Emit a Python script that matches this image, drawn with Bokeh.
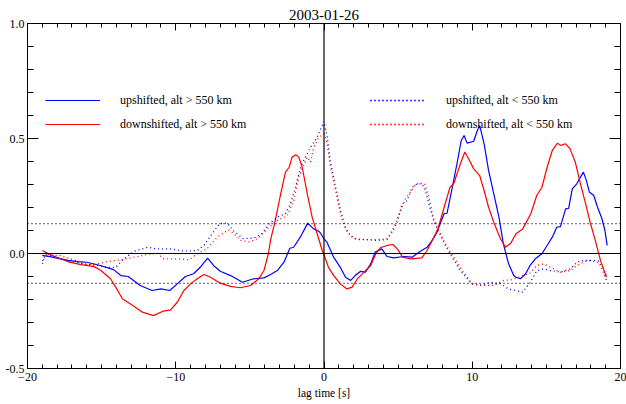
from bokeh.plotting import figure
from bokeh.models import (FixedTicker, LinearAxis, Range1d, Span, Legend, LegendItem,
                          PrintfTickFormatter)
from bokeh.embed import file_html
from bokeh.resources import INLINE

# ---------------- data ----------------
up_hi_t = [-19.0, -18.4, -17.3, -16.6, -16.0, -15.1, -14.2, -13.7, -13.2, -12.4, -11.6, -11.0, -10.4,
           -9.9, -9.35, -8.8, -8.35, -7.85, -7.45, -7.0, -6.3, -5.5, -4.75, -4.05, -3.6, -3.15, -2.7,
           -2.3, -2.05, -1.6, -1.1, -0.7, -0.35, -0.2, 0.0, 0.2, 0.45, 0.65, 1.1, 1.45, 1.8, 2.1, 2.45,
           2.8, 3.15, 3.45, 3.9, 4.25, 4.7, 5.4, 5.95, 6.5, 6.95, 7.3, 7.6, 8.1, 8.3, 8.6, 9.0, 9.25,
           9.45, 9.65, 10.1, 10.3, 10.5, 10.8, 11.1, 11.45, 11.8, 12.1, 12.45, 12.8, 12.95, 13.25, 13.6,
           13.9, 14.25, 14.7, 15.05, 15.4, 15.7, 15.95, 16.3, 16.5, 16.75, 17.05, 17.3, 17.5, 17.7, 17.9,
           18.2, 18.45, 18.75, 18.95, 19.1]
up_hi_v = [-0.008, -0.015, -0.03, -0.035, -0.038, -0.052, -0.07, -0.096, -0.10, -0.139, -0.161, -0.154,
           -0.161, -0.132, -0.10, -0.088, -0.06, -0.02, -0.052, -0.077, -0.096, -0.125, -0.11, -0.106,
           -0.091, -0.074, -0.038, 0.023, 0.027, 0.071, 0.132, 0.107, 0.097, 0.085, 0.064, 0.049, 0.013,
           -0.016, -0.06, -0.103, -0.117, -0.096, -0.078, -0.081, -0.045, 0.006, 0.02, -0.013, -0.019,
           -0.013, -0.016, 0.01, 0.027, 0.057, 0.09, 0.173, 0.175, 0.27, 0.40, 0.49, 0.513, 0.48, 0.488,
           0.527, 0.557, 0.477, 0.361, 0.26, 0.158, 0.042, -0.045, -0.096, -0.103, -0.11, -0.088, -0.052,
           -0.023, -0.001, 0.035, 0.071, 0.114, 0.117, 0.194, 0.196, 0.281, 0.303, 0.332, 0.354, 0.317,
           0.267, 0.252, 0.201, 0.151, 0.10, 0.035]

down_hi_t = [-19.0, -18.45, -17.3, -16.4, -15.5, -15.05, -14.4, -14.05, -13.6, -12.9, -12.25, -11.5,
             -10.9, -10.35, -9.9, -9.45, -9.0, -8.55, -8.1, -7.65, -7.0, -6.3, -5.65, -4.95, -4.4, -4.05,
             -3.75, -3.6, -3.3, -2.95, -2.6, -2.35, -2.15, -1.9, -1.7, -1.47, -1.13, -0.8, -0.46, -0.12,
             0.0, 0.3, 0.66, 1.1, 1.55, 1.9, 2.25, 2.7, 3.15, 3.5, 3.8, 4.25, 4.65, 4.95, 5.3, 5.85, 6.6,
             6.95, 7.3, 7.7, 8.1, 8.5, 8.75, 9.2, 9.5, 9.75, 10.1, 10.5, 10.8, 11.1, 11.45, 11.9, 12.25,
             12.6, 12.95, 13.4, 13.7, 13.95, 14.35, 14.7, 15.05, 15.4, 15.75, 15.95, 16.3, 16.6, 16.95,
             17.3, 17.65, 17.95, 18.3, 18.65, 19.05]
down_hi_v = [0.013, -0.006, -0.035, -0.048, -0.057, -0.074, -0.11, -0.146, -0.197, -0.226, -0.255, -0.27,
             -0.252, -0.245, -0.212, -0.161, -0.132, -0.11, -0.091, -0.103, -0.129, -0.143, -0.149,
             -0.139, -0.11, -0.074, -0.001, 0.06, 0.14, 0.25, 0.354, 0.375, 0.419, 0.429, 0.419, 0.375,
             0.26, 0.158, 0.086, 0.013, -0.005, -0.06, -0.096, -0.132, -0.154, -0.146, -0.11, -0.081,
             -0.052, -0.001, 0.025, 0.035, 0.039, 0.02, -0.016, -0.023, -0.019, 0.013, 0.057, 0.11, 0.2,
             0.288, 0.303, 0.39, 0.441, 0.412, 0.368, 0.339, 0.274, 0.201, 0.136, 0.064, 0.027, 0.045,
             0.086, 0.107, 0.143, 0.173, 0.252, 0.288, 0.375, 0.448, 0.48, 0.47, 0.477, 0.455, 0.397,
             0.303, 0.216, 0.136, 0.057, -0.03, -0.103]

up_lo_t = [-19.0, -18.8, -17.3, -16.2, -15.3, -14.6, -14.05, -13.5, -12.8, -11.9, -11.25, -10.35, -9.45,
           -8.55, -8.1, -7.55, -7.05, -6.55, -6.08, -5.45, -4.73, -4.2, -3.7, -3.16, -2.6, -2.26, -1.92,
           -1.58, -1.25, -0.91, -0.46, -0.12, 0.03, 0.22, 0.42, 0.78, 1.11, 1.45, 1.79, 2.24, 2.91, 3.59,
           4.26, 4.6, 4.94, 5.27, 5.61, 5.95, 6.28, 6.62, 6.84, 7.07, 7.4, 7.7, 8.19, 8.64, 9.2, 9.76,
           9.99, 10.55, 11.23, 11.9, 12.46, 12.91, 13.4, 13.92, 14.37, 14.82, 15.27, 15.95, 16.62, 17.07,
           17.52, 18.19, 18.53, 18.87, 19.1]
up_lo_v = [-0.033, -0.005, -0.03, -0.045, -0.052, -0.06, -0.06, -0.023, 0.01, 0.027, 0.02, 0.02, 0.01,
           0.013, 0.035, 0.086, 0.129, 0.133, 0.097, 0.065, 0.067, 0.086, 0.129, 0.158, 0.173, 0.216,
           0.288, 0.375, 0.419, 0.462, 0.506, 0.557, 0.564, 0.506, 0.404, 0.288, 0.187, 0.114, 0.078,
           0.061, 0.06, 0.057, 0.061, 0.093, 0.136, 0.216, 0.23, 0.288, 0.303, 0.303, 0.274, 0.216, 0.143,
           0.10, 0.035, -0.016, -0.074, -0.117, -0.132, -0.139, -0.125, -0.132, -0.154, -0.161, -0.168,
           -0.125, -0.074, -0.067, -0.074, -0.081, -0.067, -0.038, -0.03, -0.03, -0.033, -0.088, -0.125]

down_lo_t = [-19.0, -18.8, -17.8, -16.9, -16.0, -15.3, -14.6, -13.7, -12.8, -11.9, -11.25, -10.8, -9.9,
             -9.1, -8.55, -7.9, -7.2, -6.45, -6.08, -5.6, -5.0, -4.4, -3.83, -3.16, -2.48, -2.04, -1.7,
             -1.47, -1.13, -0.91, -0.69, -0.35, 0.0, 0.22, 0.4, 0.88, 1.22, 1.56, 2.01, 2.68, 3.35, 4.26,
             4.71, 5.16, 5.5, 5.83, 6.17, 6.5, 6.78, 7.07, 7.4, 7.74, 8.19, 8.75, 9.32, 9.99, 10.78, 11.45,
             12.12, 12.6, 13.3, 13.9, 14.37, 14.82, 15.27, 15.95, 16.62, 17.07, 17.75, 18.42, 18.76, 19.1]
down_lo_v = [-0.045, -0.005, -0.009, -0.027, -0.048, -0.045, -0.035, -0.027, -0.016, -0.004, 0.001,
             -0.023, -0.023, -0.027, -0.001, 0.02, 0.071, 0.103, 0.086, 0.057, 0.05, 0.068, 0.107, 0.143,
             0.165, 0.23, 0.332, 0.368, 0.419, 0.397, 0.462, 0.506, 0.52, 0.477, 0.39, 0.245, 0.143, 0.093,
             0.064, 0.061, 0.06, 0.064, 0.114, 0.187, 0.238, 0.267, 0.3, 0.306, 0.306, 0.245, 0.151, 0.10,
             0.042, -0.016, -0.074, -0.132, -0.139, -0.139, -0.117, -0.115, -0.10, -0.085, -0.052, -0.045,
             -0.06, -0.081, -0.074, -0.052, -0.03, -0.038, -0.052, -0.103]

labels = ["upshifted, alt > 550 km", "downshifted, alt > 550 km",
          "upshifted, alt < 550 km", "downshifted, alt < 550 km"]
title_text = "2003-01-26"
x_label = "lag time [s]"
sig_level = 0.13
x_major = [-20, -10, 0, 10, 20]
x_minor = list(range(-20, 21))
y_major = [-0.5, 0.0, 0.5, 1.0]
y_minor = [round(-0.5 + 0.1 * i, 1) for i in range(16)]

FONT = "Liberation Serif"
BLUE = "#0000ff"
RED = "#ff0000"

p = figure(width=626, height=404, x_range=Range1d(-20, 20), y_range=Range1d(-0.5, 1.0),
           output_backend="svg", toolbar_location=None, title=title_text,
           min_border_left=27, min_border_right=6, min_border_top=23, min_border_bottom=36)
p.xgrid.visible = False
p.ygrid.visible = False
p.outline_line_color = "black"
p.outline_line_width = 1
p.background_fill_color = "white"
p.border_fill_color = "white"

p.title.text_font = FONT
p.title.text_font_size = "15px"
p.title.text_font_style = "normal"
p.title.text_color = "black"
p.title.align = "center"
p.title.vertical_align = "middle"
p.title.standoff = 5
p.title.offset = 0


def style_axis(ax, maj, mnr, show_labels, xaxis):
    ticks = x_major if xaxis else y_major
    ax.ticker = FixedTicker(ticks=ticks, minor_ticks=x_minor if xaxis else y_minor)
    ax.major_tick_in = maj
    ax.major_tick_out = 0
    ax.minor_tick_in = mnr
    ax.minor_tick_out = 0
    ax.axis_line_color = "black"
    ax.major_tick_line_color = "black"
    ax.minor_tick_line_color = "black"
    ax.major_label_text_font = FONT
    ax.major_label_text_color = "black"
    ax.major_label_text_font_size = "12px"
    if show_labels:
        ax.major_label_standoff = 4
    else:
        ax.major_label_overrides = {t: "" for t in ticks}
        ax.major_label_standoff = 0


style_axis(p.xaxis[0], 7, 4, True, True)
p.xaxis[0].axis_label = x_label
p.xaxis[0].axis_label_text_font = FONT
p.xaxis[0].axis_label_text_font_size = "11.5px"
p.xaxis[0].axis_label_text_font_style = "normal"
p.xaxis[0].axis_label_text_color = "black"
p.xaxis[0].axis_label_standoff = 3
style_axis(p.yaxis[0], 11, 6, True, False)
p.yaxis[0].major_label_standoff = 3
p.yaxis[0].formatter = PrintfTickFormatter(format="%.1f")

top_ax = LinearAxis()
style_axis(top_ax, 7, 4, False, True)
p.add_layout(top_ax, "above")
right_ax = LinearAxis()
style_axis(right_ax, 11, 6, False, False)
p.add_layout(right_ax, "right")

# reference lines
p.add_layout(Span(location=0, dimension="width", line_color="black", line_width=1.2))
p.add_layout(Span(location=0, dimension="height", line_color="black", line_width=1.2))
p.add_layout(Span(location=sig_level, dimension="width", line_color="black", line_width=1.2,
                  line_dash="1 3"))
p.add_layout(Span(location=-sig_level, dimension="width", line_color="black", line_width=1.2,
                  line_dash="1 3"))

r_up_hi = p.line(up_hi_t, up_hi_v, line_color=BLUE, line_width=1.2)
r_down_hi = p.line(down_hi_t, down_hi_v, line_color=RED, line_width=1.2)
r_up_lo = p.line(up_lo_t, up_lo_v, line_color=BLUE, line_width=1.3, line_dash="1 3")
r_down_lo = p.line(down_lo_t, down_lo_v, line_color=RED, line_width=1.3, line_dash="1 3")


def make_legend(label, renderer, loc, standoff):
    # the renderer is listed twice so its swatch is stroked twice in its own colour
    lg = Legend(items=[LegendItem(label=label, renderers=[renderer, renderer])], location=loc,
                orientation="vertical", glyph_width=55, glyph_height=20, label_height=20,
                label_standoff=standoff, padding=0, margin=0,
                border_line_alpha=0, background_fill_alpha=0,
                label_text_font=FONT, label_text_font_size="12px", label_text_color="black")
    return lg


# one legend per entry: two columns of two rows, as in the reference
row_y = [258, 234]
p.add_layout(make_legend(labels[0], r_up_hi, (18, row_y[0]), 20), "center")
p.add_layout(make_legend(labels[1], r_down_hi, (18, row_y[1]), 20), "center")
p.add_layout(make_legend(labels[2], r_up_lo, (343, row_y[0]), 21), "center")
p.add_layout(make_legend(labels[3], r_down_lo, (343, row_y[1]), 21), "center")

open("out.html", "w").write(file_html(p, INLINE))
